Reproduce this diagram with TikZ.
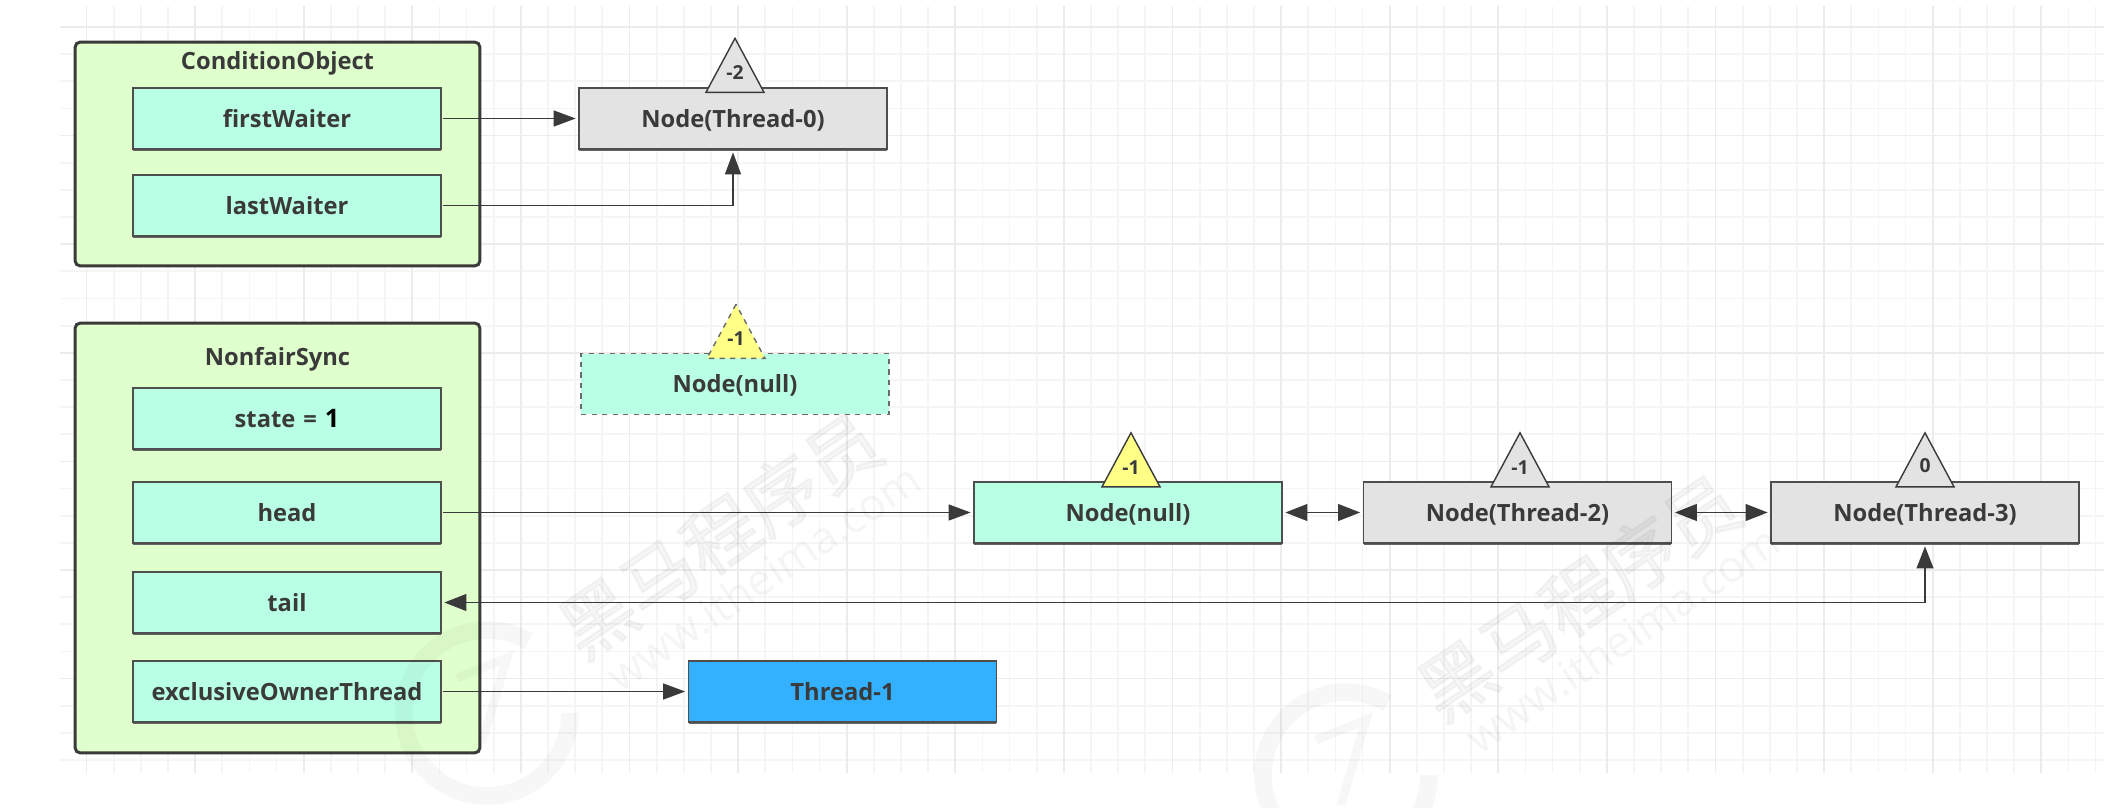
\documentclass[tikz,border=0pt]{standalone}
\usepackage{fontspec}
\usepackage{xcolor}
\setmainfont{Open Sans}
\newfontfamily\wmfont{Noto Sans CJK SC}[FakeBold=3]
\usepackage{tikz}
\usetikzlibrary{arrows.meta, shapes.geometric, shadows}

\definecolor{inkdark}{HTML}{3A3A3A}
\definecolor{mint}{HTML}{B9FFE4}
\definecolor{pale}{HTML}{DFFFCC}
\definecolor{lightgrey}{HTML}{E3E3E3}
\definecolor{threadblue}{HTML}{33B1FF}
\definecolor{marker}{HTML}{FFFF88}
\definecolor{gridminor}{HTML}{F5F5F5}
\definecolor{gridmajor}{HTML}{ECECEC}

\tikzset{
  holder/.style={draw=inkdark, line width=1.7pt, rounded corners=3pt, fill=pale,
    minimum width=8.1cm},
  holdername/.style={text=inkdark, font=\bfseries\fontsize{13.5}{16}\selectfont, text height=11.5pt, text depth=1.8pt},
  cell/.style={draw=inkdark!90, line width=0.8pt, minimum width=6.16cm, minimum height=1.22cm,
    text=inkdark, font=\bfseries\fontsize{13.5}{16}\selectfont, text height=11.5pt, text depth=1.8pt},
  solidcell/.style={cell, drop shadow={shadow xshift=0pt, shadow yshift=-1.1pt, fill=black!60, opacity=1}},
  waitmark/.style={draw=inkdark, line width=0.8pt, isosceles triangle, isosceles triangle stretches,
    shape border rotate=90, minimum width=1.16cm, minimum height=1.08cm, inner sep=0pt, anchor=lower side,
    text=inkdark, text depth=4pt, font=\bfseries\fontsize{11}{12}\selectfont},
  link/.style={draw=inkdark, line width=1pt, shorten >=1.5pt, shorten <=1pt},
  linkhead/.style={-{Triangle[length=12.5pt, width=9pt]}},
  bothhead/.style={{Triangle[length=12.5pt, width=9.5pt]}-{Triangle[length=12.5pt, width=9.5pt]}}
}

\begin{document}
\begin{tikzpicture}[x=0.02cm, y=-0.02cm]
  \useasboundingbox (0,0) rectangle (2104,808);
  % paper grid
  \foreach \i in {0,...,74}
    \draw[gridminor, line width=1pt] (86.5+27.15*\i,6) -- (86.5+27.15*\i,773);
  \foreach \i in {0,...,27}
    \draw[gridminor, line width=1pt] (60,27+27.15*\i) -- (2104,27+27.15*\i);
  \foreach \i in {0,4,...,72}
    \draw[gridmajor, line width=1pt] (86.5+27.15*\i,6) -- (86.5+27.15*\i,773);
  \foreach \i in {0,4,...,24}
    \draw[gridmajor, line width=1pt] (60,27+27.15*\i) -- (2104,27+27.15*\i);

  % holders
  \node[holder, minimum height=4.48cm] (condition) at (277.5,154) {};
  \node[holder, minimum height=8.6cm] (nonfair) at (277.5,538) {};
  \node[holdername] (conditionname) at (277.5,61) {ConditionObject};
  \node[holdername] (nonfairname) at (277.5,357) {NonfairSync};

  \node[solidcell, fill=mint] (firstwaiter) at (287,118.5) {firstWaiter};
  \node[solidcell, fill=mint] (lastwaiter) at (287,205.5) {lastWaiter};
  \node[solidcell, fill=mint] (state) at (287,418.5) {state\,\,=\,\,{\color{black}\fontsize{14.5}{14}\selectfont 1}};
  \node[solidcell, fill=mint] (head) at (287,512.5) {head};
  \node[solidcell, fill=mint] (tail) at (287,602.5) {tail};
  \node[solidcell, fill=mint] (owner) at (287,691.5) {exclusiveOwnerThread};

  % queue nodes
  \node[solidcell, fill=lightgrey] (thread0) at (733,118.5) {Node(Thread-0)};
  \node[cell, fill=mint, dashed, draw=inkdark!75] (oldhead) at (735,384) {Node(null)};
  \node[solidcell, fill=mint] (nullnode) at (1128,512.5) {Node(null)};
  \node[solidcell, fill=lightgrey] (thread2) at (1517.5,512.5) {Node(Thread-2)};
  \node[solidcell, fill=lightgrey] (thread3) at (1925,512.5) {Node(Thread-3)};
  \node[solidcell, fill=threadblue] (thread1) at (842.5,691.5) {Thread-1};

  % wait status marks
  \node[waitmark, fill=lightgrey] (mark0) at (735,93) {-2};
  \node[waitmark, fill=marker, dashed, draw=inkdark!75] (markold) at (736,359) {-1};
  \node[waitmark, fill=marker] (marknull) at (1131,487.5) {-1};
  \node[waitmark, fill=lightgrey] (mark2) at (1520,487.5) {-1};
  \node[waitmark, fill=lightgrey] (mark3) at (1925,487.5) {0};

  % links
  \draw[link, linkhead] (firstwaiter) -- (thread0);
  \draw[link, linkhead] (lastwaiter) -| (thread0);
  \draw[link, linkhead] (head) -- (nullnode);
  \draw[link, bothhead, shorten <=1.5pt] (nullnode) -- (thread2);
  \draw[link, bothhead, shorten <=1.5pt] (thread2) -- (thread3);
  \draw[link, bothhead, shorten <=1.5pt] (tail) -| (thread3);
  \draw[link, linkhead] (owner) -- (thread1);

  % watermark
  \foreach \lx/\ly/\n in {487/713/a, 1346/775/b} {
    \draw[black, opacity=0.03, line width=10pt] (\lx+83,\ly) arc (0:300:83);
    \draw[black, opacity=0.03, line width=5pt] (\lx-30,\ly-35) -- (\lx+20,\ly-55) -- (\lx-5,\ly+30);
    \node[black, opacity=0.035, rotate=34, font=\wmfont\fontsize{42}{42}\selectfont]
      (wmname\n) at (\lx+233,\ly-178) {黑马程序员};
    \node[black, opacity=0.04, rotate=34, font=\fontsize{25}{25}\selectfont]
      (wmsite\n) at (\lx+276,\ly-136) {www.itheima.com};
  }
\end{tikzpicture}
\end{document}
